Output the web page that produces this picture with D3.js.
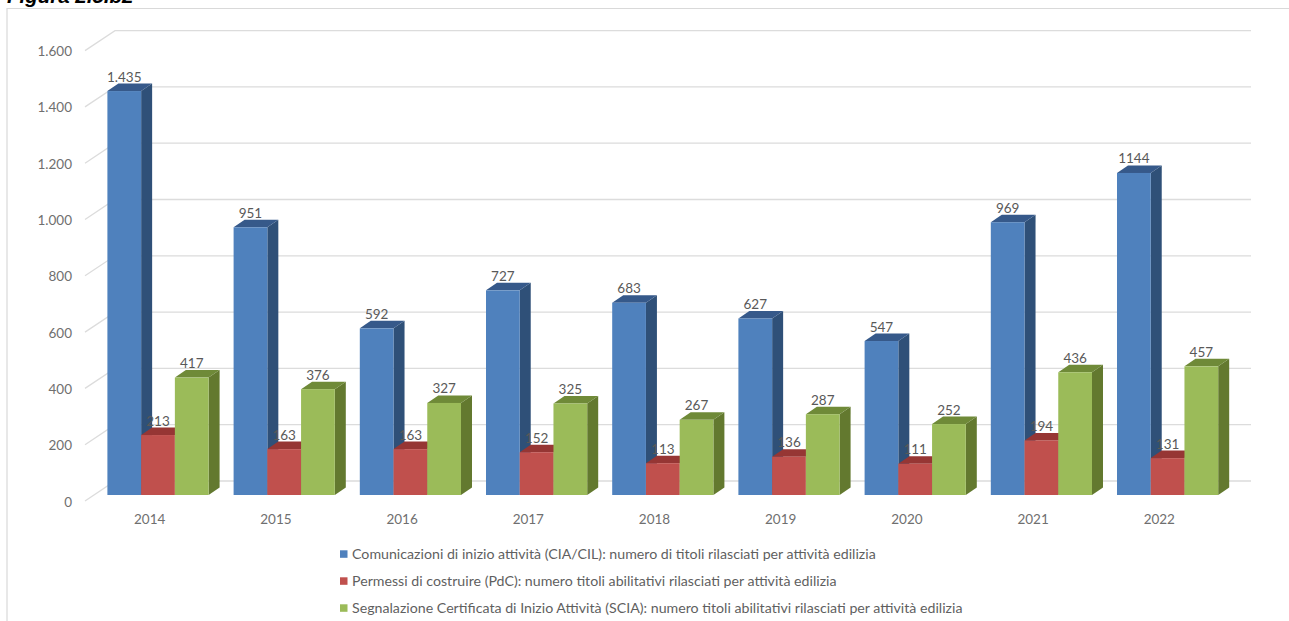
<!DOCTYPE html>
<html><head><meta charset="utf-8">
<style>html,body{margin:0;padding:0;background:#fff;overflow:hidden}svg{display:block}</style>
<script src="https://cdn.jsdelivr.net/npm/d3@7"></script></head>
<body><script>
const titleText = "Figura 2.5.b2";
const years = ["2014","2015","2016","2017","2018","2019","2020","2021","2022"];
const ciaValues = [1435,951,592,727,683,627,547,969,1144];
const pdcValues = [213,163,163,152,113,136,111,194,131];
const sciaValues = [417,376,327,325,267,287,252,436,457];
const ciaLabels = ["1.435","951","592","727","683","627","547","969","1144"];
const seriesNames = [
 "Comunicazioni di inizio attività (CIA/CIL): numero di titoli rilasciati per attività edilizia",
 "Permessi di costruire (PdC): numero titoli abilitativi rilasciati per attività edilizia",
 "Segnalazione Certificata di Inizio Attività (SCIA): numero titoli abilitativi rilasciati per attività edilizia"];
const colors = [
 {front:"#4f81bd",side:"#2f5078",top:"#36598a"},
 {front:"#c0504d",side:"#8c3331",top:"#963634"},
 {front:"#9bbb59",side:"#63792f",top:"#6f8a38"}];
const yTicks = [0,200,400,600,800,1000,1200,1400,1600];

const W=1289,H=621,font="Lato, 'Open Sans', sans-serif";
const svg=d3.select("body").append("svg").attr("width",W).attr("height",H);
const depthX=11,depthY=7.5;
const x=d3.scaleBand().domain(years).range([107.5-12.6,107.5-12.6+9*126.2]).paddingInner(25/126.2).paddingOuter(12.5/126.2);
const inner=d3.scaleBand().domain([0,1,2]).range([0,x.bandwidth()]);
const y=d3.scaleLinear().domain([0,1600]).range([495,44.6]);
const fmt=v=>d3.format(",")(v).replace(/,/g,".");

// frame and title
svg.append("path").attr("d","M7,621V8.5H1289").attr("fill","none").attr("stroke","#d9d9d9").attr("stroke-width",1.2);
svg.append("text").attr("x",7).attr("y",3).attr("font-family","Liberation Sans, Arial, sans-serif")
  .attr("font-weight","bold").attr("font-style","italic").attr("font-size",20.5).attr("fill","#000").text(titleText);

// 3D gridlines
const wallDX=30,wallDY=-20;
const grid=svg.append("g").attr("fill","none").attr("stroke","#dcdcdc").attr("stroke-width",1.3);
yTicks.forEach(t=>{
  const py=y(t)+6;
  grid.append("path").attr("d",`M85,${py}L${85+wallDX},${py+wallDY}H1251`);
});
// y axis labels
svg.append("g").selectAll("text").data(yTicks).join("text")
  .attr("x",72).attr("y",t=>y(t)+11.5).attr("text-anchor","end")
  .attr("font-family",font).attr("font-size",13.5).attr("fill","#6f6f6f").text(fmt);

// bars
const series=[ciaValues,pdcValues,sciaValues];
const barG=svg.append("g");
years.forEach((yr,i)=>{
  series.forEach((vals,s)=>{
    const v=vals[i],x0=x(yr)+inner(s),w=inner.bandwidth(),y0=y(v),yb=y(0),c=colors[s];
    const g=barG.append("g");
    g.append("path").attr("fill",c.side).attr("d",`M${x0+w},${y0}l${depthX},${-depthY}V${yb-depthY}l${-depthX},${depthY}Z`);
    g.append("path").attr("fill",c.top).attr("d",`M${x0},${y0}l${depthX},${-depthY}h${w}l${-depthX},${depthY}Z`);
    g.append("rect").attr("x",x0).attr("y",y0).attr("width",w).attr("height",yb-y0).attr("fill",c.front);
  });
});
// value labels
const labelG=svg.append("g").attr("font-family",font).attr("font-size",13.5).attr("fill","#595959").attr("text-anchor","middle");
years.forEach((yr,i)=>{
  series.forEach((vals,s)=>{
    const text=s===0?ciaLabels[i]:String(vals[i]);
    labelG.append("text").attr("x",x(yr)+inner(s)+inner.bandwidth()/2)
      .attr("y",y(vals[i])-depthY-2).text(text);
  });
});
// category labels
svg.append("g").selectAll("text").data(years).join("text")
  .attr("x",d=>x(d)+x.bandwidth()/2-8.3).attr("y",524).attr("text-anchor","middle")
  .attr("font-family",font).attr("font-size",13.5).attr("fill","#6f6f6f").text(d=>d);

// legend
const legendY=[554,581,608];
const lg=svg.append("g").selectAll("g").data(seriesNames).join("g").attr("transform",(d,i)=>`translate(340,${legendY[i]})`);
lg.append("rect").attr("x",0).attr("y",-3.7).attr("width",7.5).attr("height",7.5).attr("fill",(d,i)=>colors[i].front);
lg.append("text").attr("x",12).attr("y",4.8).attr("font-family",font).attr("font-size",14.2).attr("fill","#5f5f5f").text(d=>d);
</script></body></html>
